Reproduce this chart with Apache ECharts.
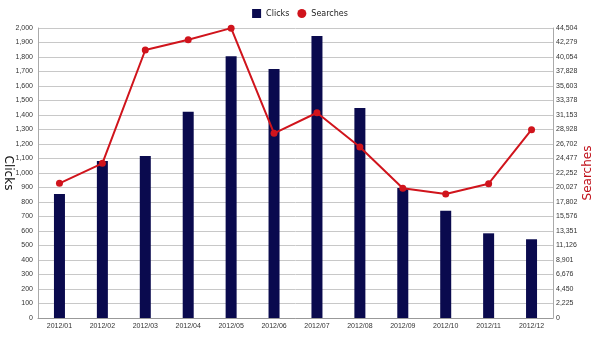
<!DOCTYPE html>
<html><head><meta charset="utf-8">
<script src="https://cdn.jsdelivr.net/npm/echarts@6/dist/echarts.min.js"></script>
<style>html,body{margin:0;padding:0;background:#fff}#c{width:600px;height:337px}</style>
</head><body><div id="c"></div>
<script>
const categories = ['2012/01','2012/02','2012/03','2012/04','2012/05','2012/06','2012/07','2012/08','2012/09','2012/10','2012/11','2012/12'];
const clicks = [855, 1083, 1118, 1423, 1805, 1717, 1945, 1448, 897, 740, 584, 543];
const searches = [20670, 23740, 41130, 42700, 44480, 28340, 31500, 26240, 19900, 19030, 20610, 28900];
const clicksMax = 2000, clicksStep = 100;
const searchesMax = 44504, searchesSplits = 20;

const fmt = v => Math.round(v).toLocaleString('en-US');
const tickFont = {fontSize: 7, color: '#333', fontFamily: 'Liberation Sans'};
const chart = echarts.init(document.getElementById('c'));
chart.setOption({
  animation: false,
  textStyle: {fontFamily: 'DejaVu Sans'},
  legend: {
    top: 4, left: 'center', itemWidth: 9, itemHeight: 9, itemGap: 8,
    textStyle: {fontSize: 8, color: '#222'},
    data: [{name: 'Clicks', icon: 'rect'}, {name: 'Searches', icon: 'circle'}]
  },
  grid: {left: 38, right: 47, top: 28, bottom: 19, containLabel: false, outerBoundsMode: 'none'},
  xAxis: {
    type: 'category', data: categories,
    axisLine: {lineStyle: {color: '#999'}},
    axisTick: {show: false},
    axisLabel: Object.assign({margin: 5}, tickFont)
  },
  yAxis: [{
    type: 'value', min: 0, max: clicksMax, interval: clicksStep,
    name: 'Clicks', nameLocation: 'middle', nameRotate: -90, nameGap: 30, nameMoveOverlap: false,
    nameTextStyle: {fontSize: 12, color: '#111', align: 'center', verticalAlign: 'middle'},
    axisLine: {show: true, lineStyle: {color: '#aaa'}},
    axisTick: {show: false},
    axisLabel: Object.assign({margin: 5, formatter: fmt}, tickFont),
    splitLine: {lineStyle: {color: '#c8c8c8'}}
  }, {
    type: 'value', min: 0, max: searchesMax, interval: searchesMax / searchesSplits,
    name: 'Searches', nameLocation: 'middle', nameRotate: 90, nameGap: 35, nameMoveOverlap: false,
    nameTextStyle: {fontSize: 12, color: '#c0101a', align: 'center', verticalAlign: 'middle'},
    axisLine: {show: true, lineStyle: {color: '#aaa'}},
    axisTick: {show: false},
    axisLabel: Object.assign({margin: 3, formatter: fmt}, tickFont),
    splitLine: {show: false}
  }],
  series: [{
    name: 'Clicks', type: 'bar', data: clicks, yAxisIndex: 0,
    barWidth: 11, itemStyle: {color: '#0a0a4e'}
  }, {
    name: 'Searches', type: 'line', data: searches, yAxisIndex: 1,
    symbol: 'circle', symbolSize: 7,
    lineStyle: {color: '#d0141c', width: 2},
    itemStyle: {color: '#d0141c'}
  }]
});
</script></body></html>
